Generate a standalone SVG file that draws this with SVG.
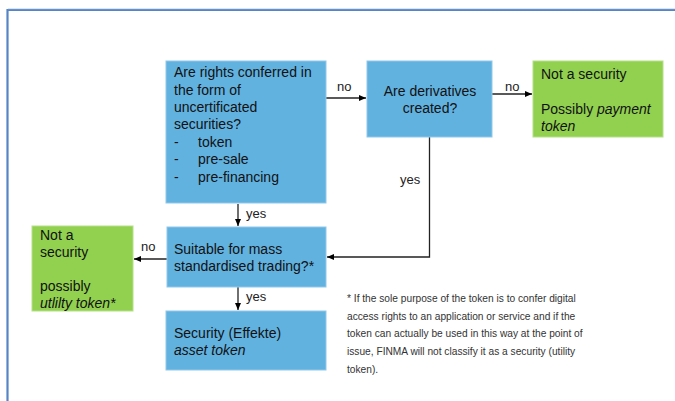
<svg xmlns="http://www.w3.org/2000/svg" width="675" height="401" viewBox="0 0 675 401">
<defs>
<marker id="ah" markerWidth="8" markerHeight="8" refX="7" refY="4" orient="auto" markerUnits="userSpaceOnUse">
<path d="M0,1 L7,4 L0,7 Z" fill="#000"/>
</marker>
<style>
.blue{fill:#62b2e0;stroke:#8fc8ea;stroke-width:1}
.green{fill:#92d050;stroke:#b5e08a;stroke-width:1}
text{font-family:"Liberation Sans",Arial,sans-serif;font-size:14px;fill:#111}
.it{font-style:italic}
.lbl{font-size:13px;fill:#222}
.fn{font-size:10.2px;fill:#333}
.c{stroke:#222;stroke-width:1.3;fill:none}
</style>
</defs>
<rect x="0" y="0" width="675" height="401" fill="#fff"/>
<path d="M7.5,401 V10 H675" fill="none" stroke="#5585c5" stroke-width="2.2"/>
<path d="M8,8.7 H675" fill="none" stroke="#c5d6ea" stroke-width="0.8"/>

<g id="connectors">
<path class="c" d="M326,98 H366" marker-end="url(#ah)"/>
<path class="c" d="M492,94 H532" marker-end="url(#ah)"/>
<path class="c" d="M429.5,137 V257 H327" marker-end="url(#ah)"/>
<path class="c" d="M238,204 V226" marker-end="url(#ah)"/>
<path class="c" d="M167,259 H134" marker-end="url(#ah)"/>
<path class="c" d="M238,287 V310" marker-end="url(#ah)"/>
<text class="lbl" x="337" y="91">no</text>
<text class="lbl" x="505" y="91">no</text>
<text class="lbl" x="400" y="184">yes</text>
<text class="lbl" x="246" y="218">yes</text>
<text class="lbl" x="141" y="251">no</text>
<text class="lbl" x="246" y="301">yes</text>
</g>

<g id="q1">
<rect class="blue" x="166" y="61" width="160" height="142"/>
<text x="174" y="77">Are rights conferred in</text>
<text x="174" y="95">the form of</text>
<text x="174" y="112">uncertificated</text>
<text x="174" y="129">securities?</text>
<text x="174" y="147">-</text><text x="198" y="147">token</text>
<text x="174" y="164">-</text><text x="198" y="164">pre-sale</text>
<text x="174" y="182">-</text><text x="198" y="182">pre-financing</text>
</g>

<g id="q2">
<rect class="blue" x="367" y="61" width="125" height="76"/>
<text x="430" y="96" text-anchor="middle">Are derivatives</text>
<text x="430" y="113" text-anchor="middle">created?</text>
</g>

<g id="payment">
<rect class="green" x="533" y="61" width="130" height="76"/>
<text x="541" y="79">Not a security</text>
<text x="541" y="114">Possibly <tspan class="it">payment</tspan></text>
<text x="541" y="131" class="it">token</text>
</g>

<g id="q3">
<rect class="blue" x="167" y="227" width="159" height="60"/>
<text x="174" y="254">Suitable for mass</text>
<text x="174" y="271">standardised trading?*</text>
</g>

<g id="utility">
<rect class="green" x="32" y="226" width="101" height="85"/>
<text x="40" y="240">Not a</text>
<text x="40" y="257">security</text>
<text x="40" y="291">possibly</text>
<text x="40" y="308" class="it">utlilty token*</text>
</g>

<g id="asset">
<rect class="blue" x="166" y="311" width="160" height="59"/>
<text x="174" y="338">Security (Effekte)</text>
<text x="174" y="355" class="it">asset token</text>
</g>

<g id="footnote">
<text class="fn" x="347" y="302">* If the sole purpose of the token is to confer digital</text>
<text class="fn" x="347" y="320">access rights to an application or service and if the</text>
<text class="fn" x="347" y="337">token can actually be used in this way at the point of</text>
<text class="fn" x="347" y="355">issue, FINMA will not classify it as a security (utility</text>
<text class="fn" x="347" y="373">token).</text>
</g>
</svg>
